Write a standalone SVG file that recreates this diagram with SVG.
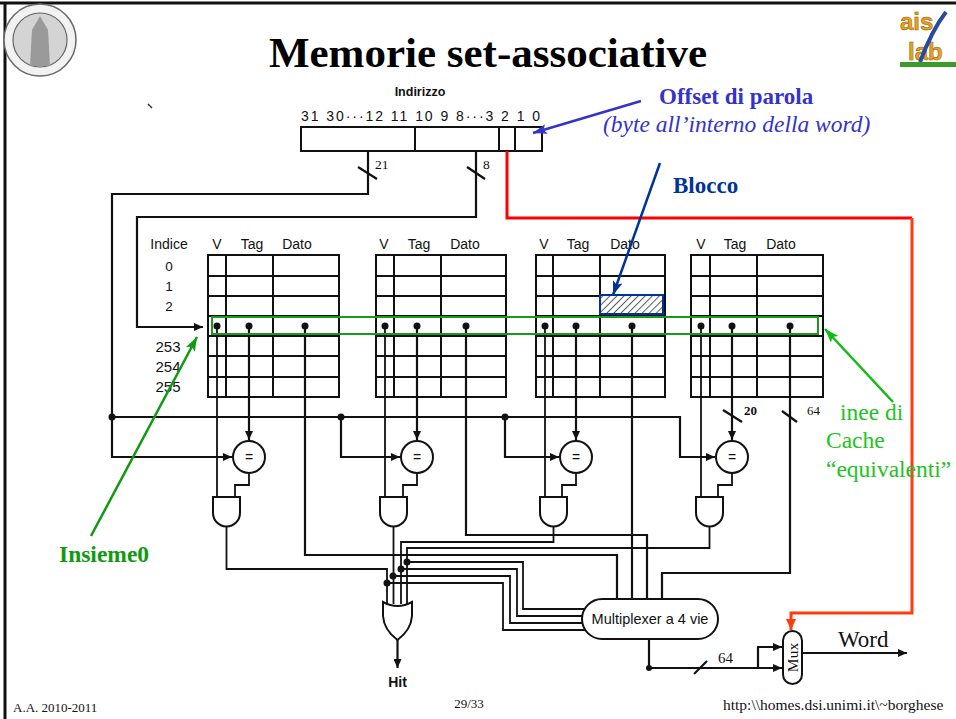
<svg xmlns="http://www.w3.org/2000/svg" width="956" height="719" viewBox="0 0 956 719">
<style>
.w{fill:none;stroke:#111;stroke-width:2.2;stroke-linejoin:miter}
.s{fill:none;stroke:#111;stroke-width:1.8}
.tbl{fill:none;stroke:#111;stroke-width:2}
.g{fill:#fff;stroke:#111;stroke-width:2}
.sans{font-family:"Liberation Sans",Arial,sans-serif;fill:#111}
.serif{font-family:"Liberation Serif","Times New Roman",serif}
.dot{fill:#111}
</style>
<defs>
<marker id="ak" markerUnits="userSpaceOnUse" markerWidth="9" markerHeight="8" refX="9" refY="4" orient="auto"><path d="M0,0 L9,4 L0,8 z" fill="#111"/></marker>
<marker id="ab" markerUnits="userSpaceOnUse" markerWidth="14" markerHeight="10" refX="14" refY="5" orient="auto"><path d="M0,0 L14,5 L0,10 L3,5 z" fill="#3333cc"/></marker>
<marker id="adb" markerUnits="userSpaceOnUse" markerWidth="14" markerHeight="10" refX="14" refY="5" orient="auto"><path d="M0,0 L14,5 L0,10 L3,5 z" fill="#003399"/></marker>
<marker id="ag" markerUnits="userSpaceOnUse" markerWidth="14" markerHeight="10" refX="14" refY="5" orient="auto"><path d="M0,0 L14,5 L0,10 L3,5 z" fill="#119911"/></marker>
<marker id="alg" markerUnits="userSpaceOnUse" markerWidth="14" markerHeight="10" refX="14" refY="5" orient="auto"><path d="M0,0 L14,5 L0,10 L3,5 z" fill="#11bb11"/></marker>
<marker id="ar" markerUnits="userSpaceOnUse" markerWidth="11" markerHeight="10" refX="11" refY="5" orient="auto"><path d="M0,0 L11,5 L0,10 z" fill="#ff3b10"/></marker>
<pattern id="hatch" patternUnits="userSpaceOnUse" width="5" height="5" patternTransform="rotate(45)"><rect width="5" height="5" fill="#fff"/><line x1="0" y1="0" x2="0" y2="5" stroke="#333" stroke-width="1.6"/></pattern>
</defs>
<rect width="956" height="719" fill="#fff"/>
<line x1="0" y1="3" x2="956" y2="3" stroke="#111" stroke-width="3"/>
<line x1="5" y1="3" x2="5" y2="719" stroke="#111" stroke-width="3"/>

<g id="logo-seal">
<circle cx="40" cy="40" r="36" fill="#f2f2f2" stroke="#666" stroke-width="1.5"/>
<circle cx="40" cy="40" r="27" fill="#d4d4d4" stroke="#666" stroke-width="1.2"/>
<path d="M30,66 L32,30 L40,16 L48,30 L50,66 Z" fill="#9a9a9a"/>
</g>
<g id="logo-aislab">
<text x="900" y="30" font-family="Liberation Sans,Arial,sans-serif" font-weight="bold" font-size="24" fill="#e8a020" stroke="#8a5a00" stroke-width="0.5">ais</text>
<text x="908" y="60" font-family="Liberation Sans,Arial,sans-serif" font-weight="bold" font-size="24" fill="#e8a020" stroke="#8a5a00" stroke-width="0.5">lab</text>
<path d="M946,12 Q932,30 920,62" fill="none" stroke="#2a4aa0" stroke-width="4"/>
<rect x="900" y="62" width="56" height="5" fill="#3a9a2a"/>
</g>

<text x="488" y="67" text-anchor="middle" class="serif" font-weight="bold" font-size="43" fill="#000">Memorie set-associative</text>
<line x1="148" y1="104" x2="152" y2="108" stroke="#333" stroke-width="1.5"/>

<g id="address">
<text x="420" y="96" text-anchor="middle" class="sans" font-weight="bold" font-size="12.5">Indirizzo</text>
<text x="301" y="121" class="sans" font-size="14" textLength="239" lengthAdjust="spacing">31 30···12 11 10 9 8···3 2 1 0</text>
<rect x="301" y="127" width="241" height="24" class="tbl"/>
<line x1="415" y1="127" x2="415" y2="151" class="tbl"/>
<line x1="499" y1="127" x2="499" y2="151" class="tbl"/>
<line x1="515" y1="127" x2="515" y2="151" class="tbl"/>
</g>

<g id="table1">
<rect x="208" y="255" width="131" height="142" class="tbl"/>
<path d="M226,255V397M273,255V397M208,276H339M208,296H339M208,316H339M208,336H339M208,356H339M208,377H339" class="tbl"/>
</g>
<g id="table2">
<rect x="376" y="255" width="130" height="142" class="tbl"/>
<path d="M394,255V397M441,255V397M376,276H506M376,296H506M376,316H506M376,336H506M376,356H506M376,377H506" class="tbl"/>
</g>
<g id="table3">
<rect x="536" y="255" width="129" height="142" class="tbl"/>
<path d="M553,255V397M600,255V397M536,276H665M536,296H665M536,316H665M536,336H665M536,356H665M536,377H665" class="tbl"/>
<rect x="600" y="295" width="63" height="19" fill="url(#hatch)" stroke="#003399" stroke-width="2"/>
</g>
<g id="table4">
<rect x="691" y="255" width="132" height="142" class="tbl"/>
<path d="M710,255V397M757,255V397M691,276H823M691,296H823M691,316H823M691,336H823M691,356H823M691,377H823" class="tbl"/>
</g>

<g id="headers" class="sans" font-size="14" text-anchor="middle">
<text x="169" y="249">Indice</text>
<text x="217" y="249">V</text><text x="252" y="249">Tag</text><text x="297" y="249">Dato</text>
<text x="384" y="249">V</text><text x="419" y="249">Tag</text><text x="465" y="249">Dato</text>
<text x="544" y="249">V</text><text x="578" y="249">Tag</text><text x="625" y="249">Dato</text>
<text x="701" y="249">V</text><text x="735" y="249">Tag</text><text x="781" y="249">Dato</text>
<text x="169" y="271" font-size="13.5">0</text>
<text x="169" y="291" font-size="13.5">1</text>
<text x="169" y="311" font-size="13.5">2</text>
<text x="168" y="352" font-size="15">253</text>
<text x="168" y="372" font-size="15">254</text>
<text x="168" y="392" font-size="15">255</text>
</g>

<g id="connectors">
<path d="M368,151V194H112V417" class="w"/>
<path d="M476,151V217H137V327H203" class="w" marker-end="url(#ak)"/>
<path d="M112,417H680V457H715" class="w" marker-end="url(#ak)"/>
<path d="M112,417V457H232" class="w" marker-end="url(#ak)"/>
<path d="M341,417V457H400" class="w" marker-end="url(#ak)"/>
<path d="M505,417V457H559" class="w" marker-end="url(#ak)"/>
<line x1="358" y1="167" x2="377" y2="179" class="w"/>
<line x1="467" y1="167" x2="485" y2="179" class="w"/>
<path d="M249,326V440" class="w" marker-end="url(#ak)"/>
<path d="M417,326V440" class="w" marker-end="url(#ak)"/>
<path d="M576,326V440" class="w" marker-end="url(#ak)"/>
<path d="M732,326V440" class="w" marker-end="url(#ak)"/>
<line x1="723" y1="410" x2="742" y2="422" class="w"/>
<path d="M217,326V497M385,326V497M545,326V497M701,326V497" class="s"/>
<path d="M249,473V485H235V497M417,473V485H403V497M576,473V485H562V497M732,473V485H718V497" class="s"/>
<path d="M305,326V555H617V599" class="w"/>
<path d="M466,326V535H647V599" class="w"/>
<path d="M632,326V599" class="w"/>
<path d="M790,326V573H662V599" class="w"/>
<line x1="782" y1="411" x2="797" y2="422" class="w"/>
<path d="M226.5,527V569H387V604" class="s"/>
<path d="M393.5,527V604" class="s"/>
<path d="M553.5,527V542H401V604" class="s"/>
<path d="M709.5,527V548H407V604" class="s"/>
<path d="M407,562H523V609H585" class="s"/>
<path d="M401,569H517V616H583" class="s"/>
<path d="M393,576H510V623H583" class="s"/>
<path d="M387,583H503V630H585" class="s"/>
<path d="M397.5,640V668" class="w" marker-end="url(#ak)"/>
<path d="M649,639V667" class="w"/>
<path d="M649,668H782" class="w" marker-end="url(#ak)"/>
<path d="M758,668V647H782" class="w" marker-end="url(#ak)"/>
<line x1="694" y1="674" x2="707" y2="661" class="w"/>
<path d="M802,653H907" class="w" marker-end="url(#ak)"/>
<path d="M507,151V218H912" fill="none" stroke="#ff0000" stroke-width="3"/>
<path d="M912,218V613H791V630" fill="none" stroke="#ff3b10" stroke-width="3" marker-end="url(#ar)"/>
<line x1="641" y1="101" x2="533" y2="133" stroke="#3333cc" stroke-width="2.5" marker-end="url(#ab)"/>
<line x1="660" y1="163" x2="613" y2="295" stroke="#003399" stroke-width="2.5" marker-end="url(#adb)"/>
<line x1="91" y1="536" x2="197" y2="337" stroke="#119911" stroke-width="2.5" marker-end="url(#ag)"/>
<line x1="893" y1="402" x2="825" y2="329" stroke="#11bb11" stroke-width="2.5" marker-end="url(#alg)"/>
<g class="dot">
<circle cx="112" cy="417" r="3.5"/><circle cx="341" cy="417" r="3.5"/><circle cx="505" cy="417" r="3.5"/>
<circle cx="217" cy="326" r="3.5"/><circle cx="249" cy="326" r="3.5"/><circle cx="305" cy="326" r="3.5"/>
<circle cx="385" cy="326" r="3.5"/><circle cx="417" cy="326" r="3.5"/><circle cx="466" cy="326" r="3.5"/>
<circle cx="545" cy="326" r="3.5"/><circle cx="576" cy="326" r="3.5"/><circle cx="632" cy="326" r="3.5"/>
<circle cx="701" cy="326" r="3.5"/><circle cx="732" cy="326" r="3.5"/><circle cx="790" cy="326" r="3.5"/>
<circle cx="407" cy="562" r="3.5"/><circle cx="401" cy="569" r="3.5"/><circle cx="393" cy="576" r="3.5"/><circle cx="387" cy="583" r="3.5"/>
<circle cx="649" cy="668" r="3"/>
</g>
</g>

<rect x="212" y="317" width="606" height="17" fill="none" stroke="#1a9a1a" stroke-width="2"/>

<g id="comparators">
<g id="cmp1"><circle cx="249" cy="457" r="16" class="g"/><text x="249" y="462" text-anchor="middle" class="sans" font-size="14">=</text></g>
<g id="cmp2"><circle cx="417" cy="457" r="16" class="g"/><text x="417" y="462" text-anchor="middle" class="sans" font-size="14">=</text></g>
<g id="cmp3"><circle cx="576" cy="457" r="16" class="g"/><text x="576" y="462" text-anchor="middle" class="sans" font-size="14">=</text></g>
<g id="cmp4"><circle cx="732" cy="457" r="16" class="g"/><text x="732" y="462" text-anchor="middle" class="sans" font-size="14">=</text></g>
</g>
<g id="and1"><path d="M213,497H240V513A13.5,13.5 0 0 1 213,513Z" class="g"/></g>
<g id="and2"><path d="M380,497H407V513A13.5,13.5 0 0 1 380,513Z" class="g"/></g>
<g id="and3"><path d="M540,497H567V513A13.5,13.5 0 0 1 540,513Z" class="g"/></g>
<g id="and4"><path d="M696,497H723V513A13.5,13.5 0 0 1 696,513Z" class="g"/></g>
<g id="or"><path d="M383,602Q397.5,610 412,602L412,616Q411,630 397.5,640Q384,630 383,616Z" class="g"/></g>
<g id="multiplexer">
<rect x="582" y="599" width="136" height="40" rx="20" class="g"/>
<text x="650" y="624" text-anchor="middle" class="sans" font-size="14.5">Multiplexer a 4 vie</text>
</g>
<g id="mux">
<rect x="783" y="631" width="19" height="53" rx="9.5" class="g"/>
<text transform="translate(797.5,657.5) rotate(-90)" text-anchor="middle" class="serif" font-size="15.5" fill="#111">Mux</text>
</g>

<g id="labels" class="serif">
<text x="375" y="169" font-size="13.5" fill="#111">21</text>
<text x="483" y="169" font-size="13.5" fill="#111">8</text>
<text x="744" y="415" font-size="13" font-weight="bold" fill="#111">20</text>
<text x="807" y="415" font-size="13" fill="#111">64</text>
<text x="718" y="663" font-size="15" fill="#111">64</text>
<text x="838" y="647" font-size="23" fill="#111">Word</text>
<text x="397.5" y="687" text-anchor="middle" class="sans" font-size="14" font-weight="bold">Hit</text>
<text x="659" y="104" font-size="23" font-weight="bold" fill="#3333cc">Offset di parola</text>
<text x="603" y="132" font-size="23.5" font-style="italic" fill="#3333cc">(byte all’interno della word)</text>
<text x="673" y="193" font-size="23" font-weight="bold" fill="#003399">Blocco</text>
<text x="59" y="562" font-size="23.5" font-weight="bold" fill="#109a10">Insieme0</text>
<text x="840" y="420" font-size="23.5" fill="#22c322">inee di</text>
<text x="826" y="448" font-size="23.5" fill="#22c322">Cache</text>
<text x="826" y="477" font-size="23.5" fill="#22c322">“equivalenti”</text>
<text x="13" y="712" font-size="13" fill="#111">A.A. 2010-2011</text>
<text x="469" y="708" text-anchor="middle" font-size="13" fill="#111">29/33</text>
<text x="723" y="710" font-size="15.5" fill="#111">http:\\homes.dsi.unimi.it\~borghese</text>
</g>
</svg>
